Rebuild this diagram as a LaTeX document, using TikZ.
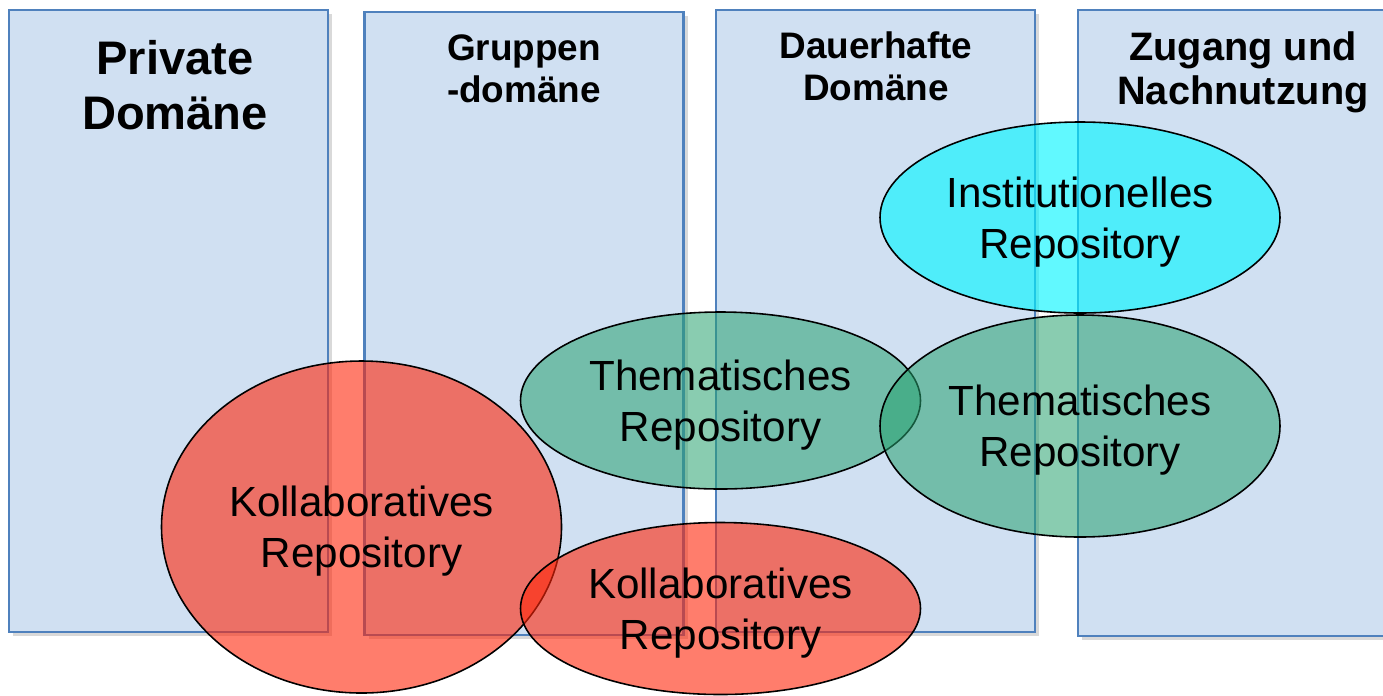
\documentclass[tikz,border=0pt]{standalone}
\usepackage{fontspec}
\setmainfont{Liberation Sans}
\usetikzlibrary{shapes.geometric,shadows}
\pgfdeclarelayer{domainlayer}
\pgfdeclarelayer{repolayer}
\pgfsetlayers{domainlayer,main,repolayer}
\definecolor{domainfill}{RGB}{208,224,242}
\definecolor{domainline}{RGB}{79,129,189}
\definecolor{collabred}{RGB}{255,38,10}
\definecolor{themegreen}{RGB}{40,162,112}
\definecolor{instcyan}{RGB}{0,245,255}
\tikzstyle{domainbox}=[fill=domainfill, draw=domainline, line width=0.7pt, shape=rectangle, inner sep=0pt, minimum width=3.19cm, drop shadow={opacity=0.3, shadow xshift=0.04, shadow yshift=-0.04}]
\tikzstyle{heading}=[align=center, inner sep=0pt, font=\bfseries\fontsize{10.5}{12}\selectfont]
\tikzstyle{big heading}=[heading, font=\bfseries\fontsize{13.4}{15.6}\selectfont]
\tikzstyle{mid heading}=[heading, font=\bfseries\fontsize{11.3}{12.5}\selectfont]
\tikzstyle{repo}=[draw=black, line width=0.45pt, shape=ellipse, inner sep=0pt, minimum width=4cm, align=center, text opacity=1, text depth=0pt, font=\fontsize{12}{14.5}\selectfont]
\tikzstyle{repo red}=[repo, fill=collabred, fill opacity=0.6]
\tikzstyle{repo green}=[repo, fill=themegreen, fill opacity=0.55]
\tikzstyle{repo cyan}=[repo, fill=instcyan, fill opacity=0.62]

\begin{document}
\begin{tikzpicture}
	\useasboundingbox (0,0) rectangle (13.83,-6.95);
	\begin{pgfonlayer}{domainlayer}
		\node [style=domainbox, minimum height=6.22cm] (0) at (1.685, -3.21) {};
		\node [style=domainbox, minimum height=6.23cm] (1) at (5.24, -3.235) {};
		\node [style=domainbox, minimum height=6.22cm] (2) at (8.755, -3.21) {};
		\node [style=domainbox, minimum height=6.26cm] (3) at (12.375, -3.23) {};
	\end{pgfonlayer}
	\node [style=big heading] (4) at (1.75, -0.855) {Private\\Domäne};
	\node [style=heading] (5) at (5.24, -0.69) {Gruppen\\-domäne};
	\node [style=heading] (6) at (8.76, -0.66) {Dauerhafte\\Domäne};
	\node [style=mid heading] (7) at (12.43, -0.72) {Zugang und\\Nachnutzung};
	\begin{pgfonlayer}{repolayer}
		\node [style=repo red, minimum height=3.32cm] (8) at (3.615, -5.27) {Kollaboratives\\Repository};
		\node [style=repo red, minimum height=1.72cm] (9) at (7.205, -6.085) {Kollaboratives\\Repository};
		\node [style=repo green, minimum height=1.77cm] (10) at (7.205, -4.005) {Thematisches\\Repository};
		\node [style=repo green, minimum height=2.22cm] (11) at (10.8, -4.26) {Thematisches\\Repository};
		\node [style=repo cyan, minimum height=1.91cm] (12) at (10.8, -2.175) {Institutionelles\\Repository};
	\end{pgfonlayer}
\end{tikzpicture}
\end{document}
